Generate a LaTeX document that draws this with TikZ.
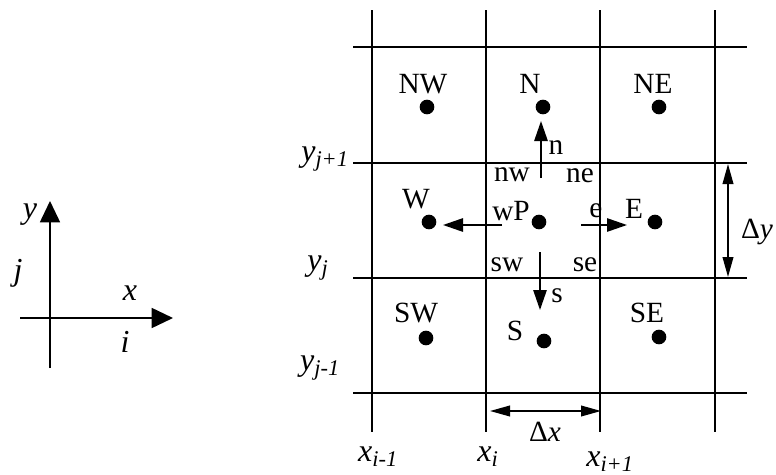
\documentclass[tikz,border=0pt]{standalone}
\usepackage{fontspec}
\setmainfont{Liberation Serif}
\usetikzlibrary{arrows.meta}

\begin{document}
\begin{tikzpicture}[x=0.75pt,y=-0.75pt,
  gridline/.style={line width=1.4pt},
  dot/.style={circle,fill=black,inner sep=0pt,minimum size=11pt},
  lbl/.style={font=\fontsize{22}{24}\selectfont,inner sep=0pt},
  ilbl/.style={font=\fontsize{24}{26}\selectfont\itshape,inner sep=0pt},
  flux/.style={-{Triangle[length=15pt,width=10pt]},line width=1.3pt},
  dim/.style={{Triangle[length=15pt,width=8pt]}-{Triangle[length=15pt,width=8pt]},line width=1.3pt},
  axis/.style={-{Triangle[length=16pt,width=15pt]},line width=1.3pt}
]
\useasboundingbox (0,0) rectangle (776,475);
\foreach \gx in {372,486,600,715}
  \draw[gridline] (\gx,10) -- (\gx,432);
\foreach \gy in {47,163,278,393}
  \draw[gridline] (353,\gy) -- (747,\gy);

\node[dot] (NW) at (427,107) {};
\node[dot] (N) at (543,107) {};
\node[dot] (NE) at (659,107) {};
\node[dot] (W) at (429,222) {};
\node[dot] (P) at (539,222) {};
\node[dot] (E) at (655,222) {};
\node[dot] (SW) at (426,338) {};
\node[dot] (S) at (544,341) {};
\node[dot] (SE) at (659,337) {};

\node[lbl] (tNW) at (423,84) {NW};
\node[lbl] (tN) at (530,84) {N};
\node[lbl] (tNE) at (653,84) {NE};
\node[lbl] (tW) at (416,199) {W};
\node[lbl] (tE) at (634,209) {E};
\node[lbl] (tSW) at (416,313) {SW};
\node[lbl] (tS) at (515,331) {S};
\node[lbl] (tSE) at (647,313) {SE};
\node[lbl] (twP) at (511,211) {wP};
\node[lbl] (te) at (596,211) {e};
\node[lbl] (tnw) at (512,175) {nw};
\node[lbl] (tne) at (580,176) {ne};
\node[lbl] (tsw) at (507,265) {sw};
\node[lbl] (tse) at (585,265) {se};
\node[lbl] (tn) at (556,148) {n};
\node[lbl] (ts) at (557,296) {s};

\coordinate (fn0) at (541,178);
\coordinate (fn1) at (541,121);
\coordinate (fw0) at (502,225);
\coordinate (fw1) at (443,225);
\coordinate (fe0) at (581,225);
\coordinate (fe1) at (627,225);
\coordinate (fs0) at (540,252);
\coordinate (fs1) at (540,310);
\draw[flux] (fn0) -- (fn1);
\draw[flux] (fw0) -- (fw1);
\draw[flux] (fe0) -- (fe1);
\draw[flux] (fs0) -- (fs1);

\coordinate (dx0) at (490,411);
\coordinate (dx1) at (601,411);
\coordinate (dy0) at (728,164);
\coordinate (dy1) at (728,277);
\draw[dim] (dx0) -- (dx1);
\draw[dim] (dy0) -- (dy1);
\node[lbl] (tdx) at (545,432) {Δ\textit{x}};
\node[lbl] (tdy) at (757,232) {Δ\textit{y}};

\node[ilbl] (yj1) at (325,159) {y\textsubscript{j+1}};
\node[ilbl] (yj) at (318,268) {y\textsubscript{j}};
\node[ilbl] (yjm) at (320,368) {y\textsubscript{j-1}};
\node[ilbl] (xim) at (378,457) {x\textsubscript{i-1}};
\node[ilbl] (xi) at (488,457) {x\textsubscript{i}};
\node[ilbl] (xip) at (610,462) {x\textsubscript{i+1}};

\coordinate (o) at (50,318);
\coordinate (ax0) at (20,318);
\coordinate (ax1) at (173,318);
\coordinate (ay0) at (50,368);
\coordinate (ay1) at (50,201);
\draw[line width=1.3pt] (ax0) -- (o);
\draw[axis] (o) -- (ax1);
\draw[axis] (ay0) -- (ay1);
\node[ilbl] (ty) at (30,215) {y};
\node[ilbl] (tj) at (18,273) {j};
\node[ilbl] (tx) at (130,293) {x};
\node[ilbl] (ti) at (125,342) {i};
\end{tikzpicture}
\end{document}
